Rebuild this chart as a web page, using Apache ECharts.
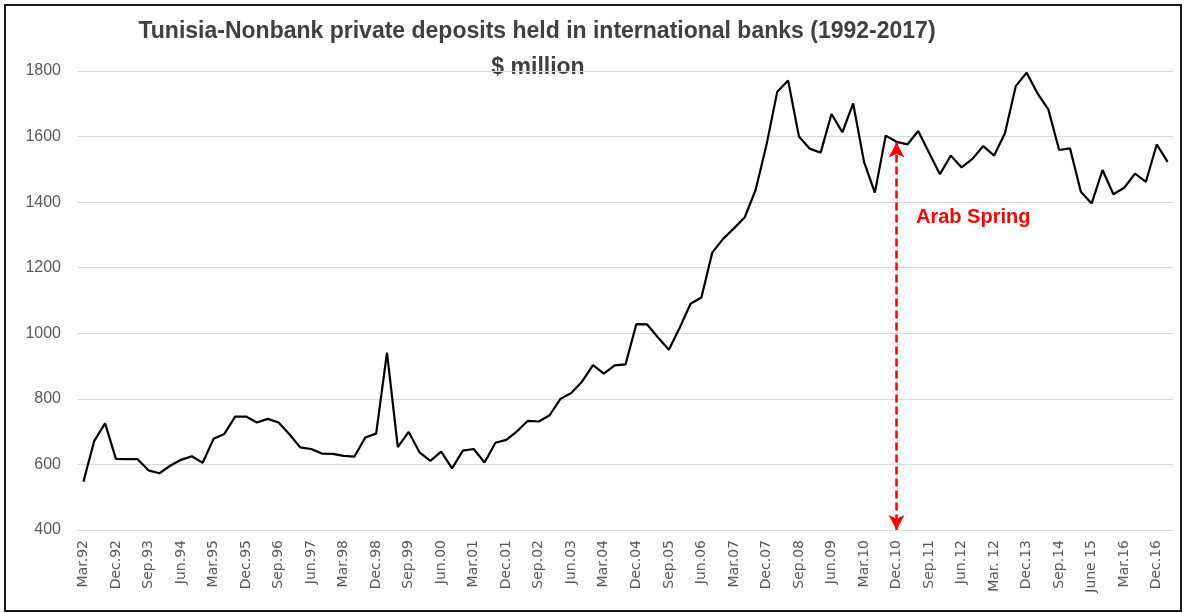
<!DOCTYPE html>
<html>
<head>
<meta charset="utf-8">
<script src="https://cdn.jsdelivr.net/npm/echarts@6/dist/echarts.min.js"></script>
<style>
html,body{margin:0;padding:0;background:#fff;}
#chart{width:1185px;height:613px;}
</style>
</head>
<body>
<div id="chart"></div>
<script>
var titleLines = ["Tunisia-Nonbank private deposits held in international banks (1992-2017)", "$ million"];
var annotationText = "Arab Spring";
var annotationCategory = "Dec.10";
var annotationTop = 1582;
var annotationBottom = 400;

var categories = [
"Mar.92","Jun.92","Sep.92","Dec.92",
"Mar.93","Jun.93","Sep.93","Dec.93",
"Mar.94","Jun.94","Sep.94","Dec.94",
"Mar.95","Jun.95","Sep.95","Dec.95",
"Mar.96","Jun.96","Sep.96","Dec.96",
"Mar.97","Jun.97","Sep.97","Dec.97",
"Mar.98","Jun.98","Sep.98","Dec.98",
"Mar.99","Jun.99","Sep.99","Dec.99",
"Mar.00","Jun.00","Sep.00","Dec.00",
"Mar.01","Jun.01","Sep.01","Dec.01",
"Mar.02","Jun.02","Sep.02","Dec.02",
"Mar.03","Jun.03","Sep.03","Dec.03",
"Mar.04","Jun.04","Sep.04","Dec.04",
"Mar.05","Jun.05","Sep.05","Dec.05",
"Mar.06","Jun.06","Sep.06","Dec.06",
"Mar.07","Jun.07","Sep.07","Dec.07",
"Mar.08","Jun.08","Sep.08","Dec.08",
"Mar.09","Jun.09","Sep.09","Dec.09",
"Mar.10","Jun.10","Sep.10","Dec.10",
"Mar.11","Jun.11","Sep.11","Dec.11",
"Mar.12","Jun.12","Sep.12","Dec.12",
"Mar. 12","Jun.13","Sep.13","Dec.13",
"Mar.14","Jun.14","Sep.14","Dec.14",
"Mar.15","June 15","Sep.15","Dec.15",
"Mar.16","Jun.16","Sep.16","Dec.16",
"Mar.17"
];

var deposits = [
547, 672, 725, 617, 616, 616, 582, 573, 596, 614,
625, 605, 678, 693, 746, 746, 728, 739, 728, 692,
652, 647, 633, 632, 626, 624, 682, 694, 941, 653,
699, 637, 611, 639, 588, 642, 647, 606, 666, 675,
701, 733, 731, 750, 800, 818, 853, 903, 877, 902,
905, 1028, 1027, 987, 950, 1017, 1090, 1109, 1246, 1288,
1320, 1354, 1437, 1574, 1737, 1771, 1600, 1563, 1551, 1669,
1613, 1701, 1523, 1429, 1603, 1584, 1576, 1617, 1551, 1485,
1542, 1506, 1532, 1571, 1542, 1610, 1754, 1795, 1732, 1683,
1559, 1564, 1432, 1396, 1498, 1424, 1444, 1487, 1462, 1576,
1523
];

var yTicks = [400, 600, 800, 1000, 1200, 1400, 1600, 1800];
var labelEvery = 3;
var lastLabelIndex = 99;

var chart = echarts.init(document.getElementById('chart'), null, {renderer: 'canvas'});

var option = {
  backgroundColor: '#ffffff',
  animation: false,
  grid: {left: 78, right: 12, top: 71, bottom: 83},
  xAxis: {
    type: 'category',
    data: categories,
    boundaryGap: true,
    axisLine: {show: true, lineStyle: {color: '#d9d9d9', width: 1}},
    axisTick: {show: false},
    splitLine: {show: false},
    axisLabel: {
      rotate: 90,
      margin: 10,
      interval: function (index) { return index % labelEvery === 0 && index <= lastLabelIndex; },
      color: '#595959',
      fontFamily: 'DejaVu Sans',
      fontSize: 14
    }
  },
  yAxis: {
    type: 'value',
    min: yTicks[0],
    max: yTicks[yTicks.length - 1],
    interval: 200,
    axisLine: {show: false},
    axisTick: {show: false},
    splitLine: {show: true, lineStyle: {color: '#d9d9d9', width: 1}},
    axisLabel: {
      margin: 17,
      color: '#595959',
      fontFamily: 'Liberation Sans',
      fontSize: 16,
      formatter: function (v) { return String(v); }
    }
  },
  series: [{
    type: 'line',
    data: deposits,
    symbol: 'none',
    lineStyle: {color: '#000000', width: 2.2},
    silent: true,
    z: 3,
    markLine: {
      silent: true,
      symbol: ['arrow', 'arrow'],
      symbolSize: [12, 15],
      label: {show: false},
      lineStyle: {color: '#ff0000', width: 2.5, type: [8, 4]},
      data: [[{coord: [annotationCategory, annotationTop]}, {coord: [annotationCategory, annotationBottom]}]]
    }
  }],
  graphic: [
    {
      type: 'rect',
      shape: {x: 5, y: 5, width: 1176, height: 606},
      style: {fill: 'none', stroke: '#1a1a1a', lineWidth: 2},
      silent: true,
      z: 10
    },
    {
      type: 'text',
      x: 537, y: 32,
      style: {text: titleLines[0], textAlign: 'center', textVerticalAlign: 'middle',
        fill: '#404040', font: 'bold 23px "Liberation Sans"'},
      silent: true
    },
    {
      type: 'text',
      x: 538, y: 68,
      style: {text: titleLines[1], textAlign: 'center', textVerticalAlign: 'middle',
        fill: '#404040', font: 'bold 23px "Liberation Sans"'},
      silent: true
    },
    {
      type: 'text',
      x: 916, y: 217,
      style: {text: annotationText, textAlign: 'left', textVerticalAlign: 'middle',
        fill: '#ff0000', font: 'bold 20px "Liberation Sans"'},
      silent: true
    }
  ]
};
chart.setOption(option);
</script>
</body>
</html>
